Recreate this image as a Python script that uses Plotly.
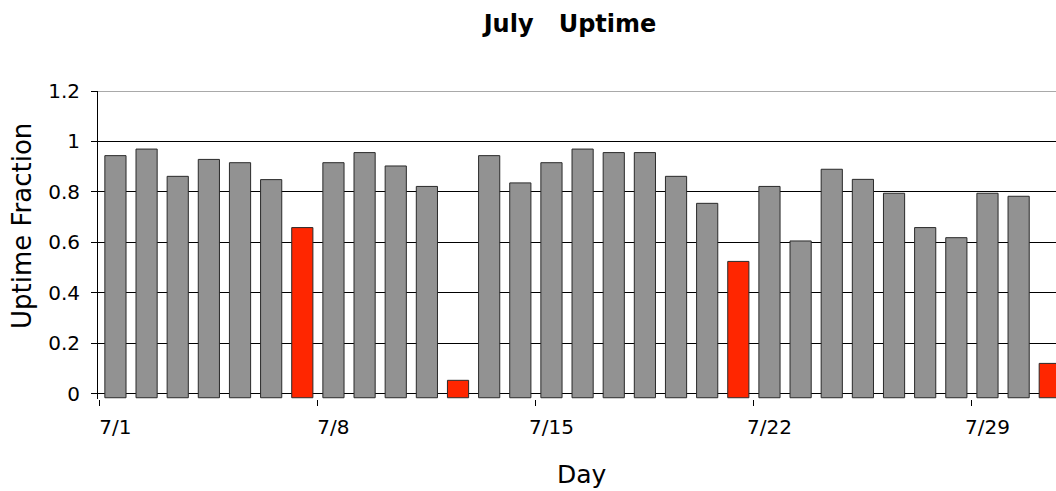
import plotly.graph_objects as go

days = list(range(1, 32))
uptime = [0.944, 0.970, 0.862, 0.929, 0.916, 0.849, 0.659, 0.916, 0.956, 0.903,
          0.822, 0.054, 0.944, 0.836, 0.916, 0.970, 0.956, 0.956, 0.862, 0.755,
          0.525, 0.822, 0.606, 0.890, 0.850, 0.795, 0.659, 0.619, 0.795, 0.783,
          0.121]
highlight_days = [7, 12, 21, 31]
tick_days = [1, 8, 15, 22, 29]
tick_labels = ["7/1", "7/8", "7/15", "7/22", "7/29"]
y_ticks = [0, 0.2, 0.4, 0.6, 0.8, 1, 1.2]
y_tick_labels = ["0", "0.2", "0.4", "0.6", "0.8", "1", "1.2"]

GRAY = "#929292"
RED = "#ff2600"
FONT = "DejaVu Sans"
BASE = -0.015
W, H = 1056, 491
L, T, B = 98, 91, 92

colors = [RED if d in highlight_days else GRAY for d in days]

fig = go.Figure()
fig.add_trace(go.Bar(
    x=days,
    y=[v - BASE for v in uptime],
    base=BASE,
    width=0.68,
    marker=dict(color=colors, line=dict(color="#2a2a2a", width=1)),
    customdata=uptime,
    hovertemplate="7/%{x}: %{customdata}<extra></extra>",
))

plot_h = H - T - B
fig.update_layout(
    width=W, height=H,
    paper_bgcolor="white", plot_bgcolor="white",
    margin=dict(l=L, r=0, t=T, b=B),
    showlegend=False,
    font=dict(family=FONT, color="black"),
    title=dict(text="<b>July\u00a0\u00a0\u00a0Uptime</b>", x=570 / W, xanchor="center",
               y=1 - 24 / H, yanchor="middle", font=dict(size=24, family=FONT)),
    xaxis=dict(
        range=[0.44, 31.2],
        tickmode="array", tickvals=tick_days, ticktext=tick_labels,
        ticks="", showgrid=False, zeroline=False, showline=False,
        tickfont=dict(size=20, family=FONT),
        ticklabelstandoff=14,
        minor=dict(tickmode="array", tickvals=[d - 0.5 for d in tick_days],
                   ticks="outside", ticklen=6, tickcolor="black", showgrid=False),
    ),
    yaxis=dict(
        range=[-0.02, 1.2],
        tickmode="array", tickvals=y_ticks, ticktext=y_tick_labels,
        ticks="outside", ticklen=6, tickcolor="black",
        showgrid=True, gridcolor="black", gridwidth=1,
        zeroline=True, zerolinecolor="black", zerolinewidth=1,
        showline=True, linecolor="black", linewidth=1,
        tickfont=dict(size=20, family=FONT),
        ticklabelstandoff=7,
    ),
    annotations=[
        dict(text="Day", xref="paper", yref="paper",
             x=(582 - L) / (W - L), y=-(474 - (H - B)) / plot_h,
             xanchor="center", yanchor="middle", showarrow=False,
             font=dict(size=25, family=FONT)),
        dict(text="Uptime Fraction", xref="paper", yref="paper", textangle=-90,
             x=-(L - 22) / (W - L), y=1 - (226 - T) / plot_h,
             xanchor="center", yanchor="middle", showarrow=False,
             font=dict(size=26, family=FONT)),
    ],
    shapes=[dict(type="line", xref="paper", yref="y", x0=0, x1=1, y0=1.2, y1=1.2,
                 line=dict(color="#8c8c8c", width=1.5))],
)

fig.write_html("out.html", config={"displayModeBar": False},
               post_script="document.body.style.margin='0';document.body.style.overflow='hidden';")
